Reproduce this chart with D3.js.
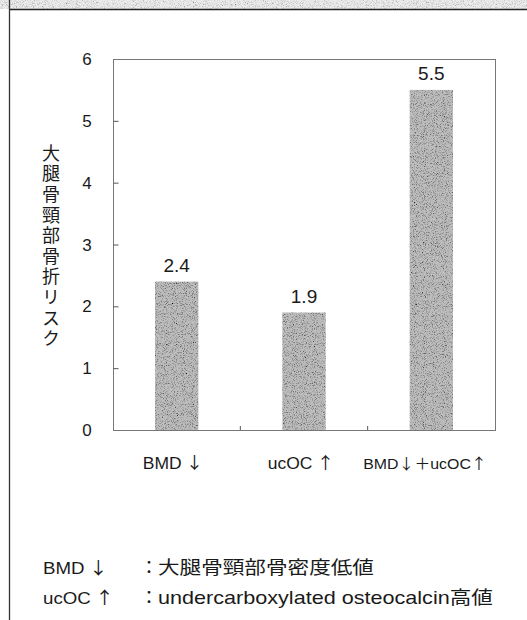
<!DOCTYPE html>
<html>
<head>
<meta charset="utf-8">
<script src="https://cdn.jsdelivr.net/npm/d3@7"></script>
<style>
  html, body { margin: 0; padding: 0; background: #fff; }
  svg { display: block; }
  text { font-family: "Liberation Sans", Arial, sans-serif; fill: #1a1a1a; }
  .jp, .sym { font-family: "Noto Sans CJK JP", sans-serif; }
</style>
</head>
<body>
<svg id="chart" width="527" height="620"></svg>
<script>
// Hip fracture risk by marker group
const categories = ["BMD↓", "ucOC↑", "BMD↓＋ucOC↑"];
const riskValues = [2.4, 1.9, 5.5];
const valueLabels = ["2.4", "1.9", "5.5"];
const yTicks = [0, 1, 2, 3, 4, 5, 6];
const yTitle = "大腿骨頸部骨折リスク";
const legendKeys = ["BMD↓", "ucOC↑"];
const legendTexts = ["大腿骨頸部骨密度低値", "undercarboxylated osteocalcin高値"];

const svg = d3.select("#chart");
const W = 527, H = 620;
const plot = { left: 113, right: 495, top: 59, bottom: 430 };

// split a label into runs so arrows / full-width signs use the CJK face
function runs(s) {
  const out = [];
  for (const ch of Array.from(s)) {
    const sym = /[↓↑＋：]|[\u3000-\u9fff]/.test(ch);
    if (out.length && out[out.length - 1].sym === sym) out[out.length - 1].t += ch;
    else out.push({ t: ch, sym });
  }
  return out;
}
function richText(sel, s, gap) {
  runs(s).forEach((r, i) => {
    sel.append("tspan")
      .attr("class", r.sym ? "sym" : null)
      .attr("dx", i > 0 && r.sym && gap ? gap : null)
      .text(r.t);
  });
}

// grain texture for the bars and header strip
const defs = svg.append("defs");
const grain = defs.append("filter").attr("id", "grain")
  .attr("x", 0).attr("y", 0).attr("width", 1).attr("height", 1);
grain.append("feTurbulence").attr("type", "fractalNoise")
  .attr("baseFrequency", 1.1).attr("numOctaves", 2).attr("seed", 3).attr("result", "noise");
grain.append("feColorMatrix").attr("in", "noise").attr("type", "matrix")
  .attr("values", "0 0 0 0 0  0 0 0 0 0  0 0 0 0 0  0 0 0 -2.4 1.25").attr("result", "dots");
grain.append("feComposite").attr("in", "dots").attr("in2", "SourceGraphic").attr("operator", "in").attr("result", "d2");
grain.append("feMerge").selectAll("feMergeNode").data(["SourceGraphic", "d2"]).join("feMergeNode").attr("in", d => d);

// header strip and page border
svg.append("rect").attr("x", 0).attr("y", 0).attr("width", W).attr("height", 9)
  .attr("fill", "#dcdcdc").attr("filter", "url(#grain)").attr("opacity", 0.55);
svg.append("line").attr("x1", 9).attr("x2", W).attr("y1", 9.5).attr("y2", 9.5)
  .attr("stroke", "#222").attr("stroke-width", 1.5);
svg.append("line").attr("x1", 9.5).attr("x2", 9.5).attr("y1", 0).attr("y2", H)
  .attr("stroke", "#333").attr("stroke-width", 1.3);

const x = d3.scaleBand().domain(categories).range([plot.left, plot.right])
  .paddingInner(0.66).paddingOuter(0.33);
const y = d3.scaleLinear().domain([0, 6]).range([plot.bottom, plot.top]);

// frame
svg.append("rect").attr("x", plot.left + 0.5).attr("y", plot.top + 0.5)
  .attr("width", plot.right - plot.left).attr("height", plot.bottom - plot.top)
  .attr("fill", "none").attr("stroke", "#777").attr("stroke-width", 1);

// y axis: inward ticks
const yAxis = d3.axisRight(y).tickValues(yTicks.filter(t => t > 0 && t < 6))
  .tickSize(5).tickFormat("");
const gy = svg.append("g").attr("transform", `translate(${plot.left + 0.5},0)`).call(yAxis);
gy.select(".domain").remove();
gy.selectAll("line").attr("stroke", "#555");

svg.selectAll(".ylab").data(yTicks).join("text")
  .attr("class", "ylab")
  .attr("x", 87).attr("y", d => y(d) + 6)
  .attr("text-anchor", "middle").attr("font-size", 17)
  .text(d => d);

// x boundary ticks between groups
const bounds = categories.slice(1).map(c => x(c) - x.step() * x.paddingInner() / 2);
svg.selectAll(".xt").data(bounds).join("line")
  .attr("x1", d => d).attr("x2", d => d)
  .attr("y1", plot.bottom).attr("y2", plot.bottom - 4)
  .attr("stroke", "#555");

// bars
svg.selectAll(".bar").data(riskValues).join("rect")
  .attr("class", "bar")
  .attr("x", (d, i) => x(categories[i]))
  .attr("y", d => y(d))
  .attr("width", x.bandwidth())
  .attr("height", d => y(0) - y(d))
  .attr("fill", "#bdbdbd")
  .attr("filter", "url(#grain)");

// value labels
svg.selectAll(".val").data(riskValues).join("text")
  .attr("class", "val")
  .attr("x", (d, i) => x(categories[i]) + x.bandwidth() / 2)
  .attr("y", d => y(d) - 10)
  .attr("text-anchor", "middle").attr("font-size", 19)
  .text((d, i) => valueLabels[i]);

// category labels
const catX = [173, 301, 425];
svg.selectAll(".cat").data(categories).join("text")
  .attr("class", "cat")
  .attr("text-anchor", "middle")
  .attr("transform", (d, i) => `translate(${catX[i]},${plot.bottom + 39}) scale(1.06,1)`)
  .attr("font-size", d => d.length > 6 ? 15 : 16.5)
  .each(function (d) { richText(d3.select(this), d, d.length > 6 ? 0 : 4); });

// vertical y title
svg.append("text").attr("class", "jp")
  .attr("x", 51).attr("y", 144)
  .attr("font-size", 18)
  .style("writing-mode", "vertical-rl")
  .style("text-orientation", "upright")
  .attr("letter-spacing", 2.6)
  .text(yTitle);

// legend (set wide, as printed)
legendKeys.forEach((k, i) => {
  const ly = 574 + i * 30;
  const key = svg.append("text").attr("font-size", 17)
    .attr("transform", `translate(43,${ly}) scale(1.1,1)`);
  richText(key, k, 4);
  svg.append("text").attr("class", "jp").attr("x", 140).attr("y", ly)
    .attr("font-size", 18).text("：");
  const t = svg.append("text").attr("font-size", 18)
    .attr("transform", `translate(158,${ly}) scale(1.2,1)`);
  richText(t, legendTexts[i], 0);
});
</script>
</body>
</html>
